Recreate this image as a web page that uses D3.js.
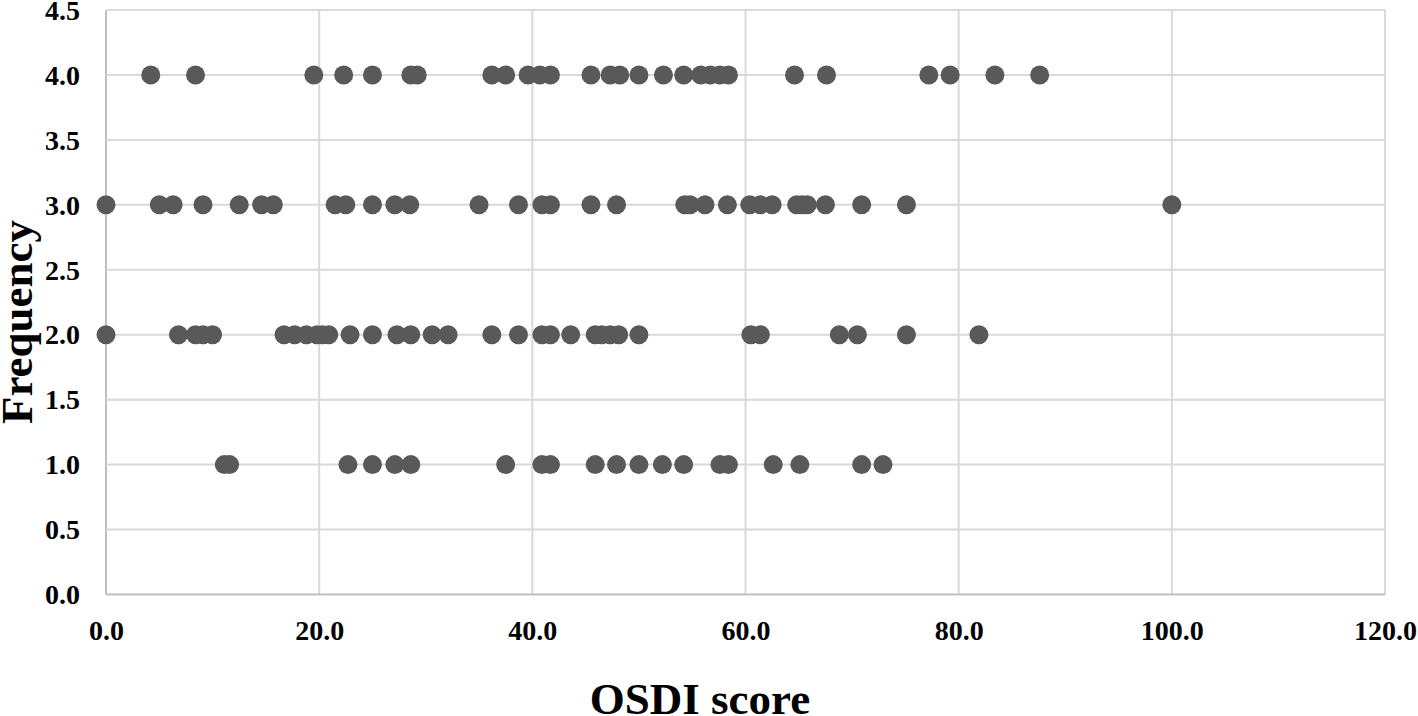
<!DOCTYPE html>
<html>
<head>
<meta charset="utf-8">
<script src="https://cdn.jsdelivr.net/npm/d3@7"></script>
<style>
  html, body { margin: 0; padding: 0; background: #fff; }
  svg { display: block; }
  text { font-family: "Liberation Serif", "Times New Roman", serif; font-weight: bold; fill: #000; }
</style>
</head>
<body>
<svg id="chart" width="1418" height="716"></svg>
<script>
// OSDI scores for each frequency level
const freq4 = [4.2, 8.4, 19.5, 22.3, 25.0, 28.6, 29.2, 36.2, 37.5, 39.6, 40.7, 41.7,
  45.5, 47.3, 48.2, 50.0, 52.3, 54.2, 55.8, 56.7, 57.6, 58.4, 64.6, 67.6, 77.2, 79.2, 83.4, 87.6];
const freq3 = [0.0, 5.0, 6.3, 9.1, 12.5, 14.6, 15.7, 21.5, 22.5, 25.0, 27.1, 28.5, 35.0, 38.7, 40.9, 41.7,
  45.5, 47.9, 54.3, 54.8, 56.2, 58.3, 60.4, 61.4, 62.5, 64.8, 65.3, 65.8, 67.5, 70.9, 75.1, 100.0];
const freq2 = [0.0, 6.8, 8.4, 9.1, 10.0, 16.7, 17.7, 18.8, 19.8, 20.3, 20.9, 22.9, 25.0, 27.3, 28.6, 30.6, 32.1,
  36.2, 38.7, 40.9, 41.7, 43.6, 45.9, 46.5, 47.3, 48.1, 50.0, 60.5, 61.4, 68.8, 70.5, 75.1, 81.9];
const freq1 = [11.1, 11.6, 22.7, 25.0, 27.1, 28.6, 37.5, 40.9, 41.7,
  45.9, 47.9, 50.0, 52.2, 54.2, 57.6, 58.4, 62.6, 65.1, 70.9, 72.9];

const xTicks = [0, 20, 40, 60, 80, 100, 120];
const yTicks = [0, 0.5, 1, 1.5, 2, 2.5, 3, 3.5, 4, 4.5];
const xTitle = "OSDI score";
const yTitle = "Frequency";

const points = [
  ...freq4.map(v => ({x: v, y: 4})),
  ...freq3.map(v => ({x: v, y: 3})),
  ...freq2.map(v => ({x: v, y: 2})),
  ...freq1.map(v => ({x: v, y: 1}))
];

const svg = d3.select("#chart");
const pLeft = 106, pRight = 1385, pTop = 10, pBottom = 594.5;

const x = d3.scaleLinear().domain([0, 120]).range([pLeft, pRight]);
const y = d3.scaleLinear().domain([0, 4.5]).range([pBottom, pTop]);

// gridlines
const grid = svg.append("g");
grid.selectAll("line.v").data(xTicks).join("line")
  .attr("x1", d => x(d)).attr("x2", d => x(d))
  .attr("y1", pTop).attr("y2", pBottom)
  .attr("stroke", d => d === 0 ? "#bfbfbf" : "#d9d9d9").attr("stroke-width", 2);
grid.selectAll("line.h").data(yTicks).join("line")
  .attr("x1", pLeft).attr("x2", pRight)
  .attr("y1", d => y(d)).attr("y2", d => y(d))
  .attr("stroke", d => d === 0 ? "#bfbfbf" : "#d9d9d9").attr("stroke-width", 2);

// axes labels via d3 axes (no lines)
const xAxis = svg.append("g").attr("transform", `translate(0,${pBottom})`)
  .call(d3.axisBottom(x).tickValues(xTicks).tickFormat(d3.format(".1f")).tickSize(0).tickPadding(0));
xAxis.select(".domain").remove();
xAxis.selectAll("text").attr("font-size", 28).attr("dy", null).attr("y", 45)
  .style("font-family", "'Liberation Serif', serif").style("font-weight", "bold").attr("fill", "#000");

const yAxis = svg.append("g").attr("transform", `translate(80,0)`)
  .call(d3.axisLeft(y).tickValues(yTicks).tickFormat(d3.format(".1f")).tickSize(0).tickPadding(0));
yAxis.select(".domain").remove();
yAxis.selectAll("text").attr("font-size", 28).attr("x", 0).attr("dy", "0.33em")
  .style("font-family", "'Liberation Serif', serif").style("font-weight", "bold").attr("fill", "#000");

// points
svg.append("g").selectAll("circle").data(points).join("circle")
  .attr("cx", d => x(d.x)).attr("cy", d => y(d.y)).attr("r", 9.5)
  .attr("fill", "#595959");

// titles
svg.append("text").attr("x", 700).attr("y", 714).attr("text-anchor", "middle")
  .attr("font-size", 45).text(xTitle);
svg.append("text").attr("transform", `translate(32,322) rotate(-90)`).attr("text-anchor", "middle")
  .attr("font-size", 45).text(yTitle);
</script>
</body>
</html>
